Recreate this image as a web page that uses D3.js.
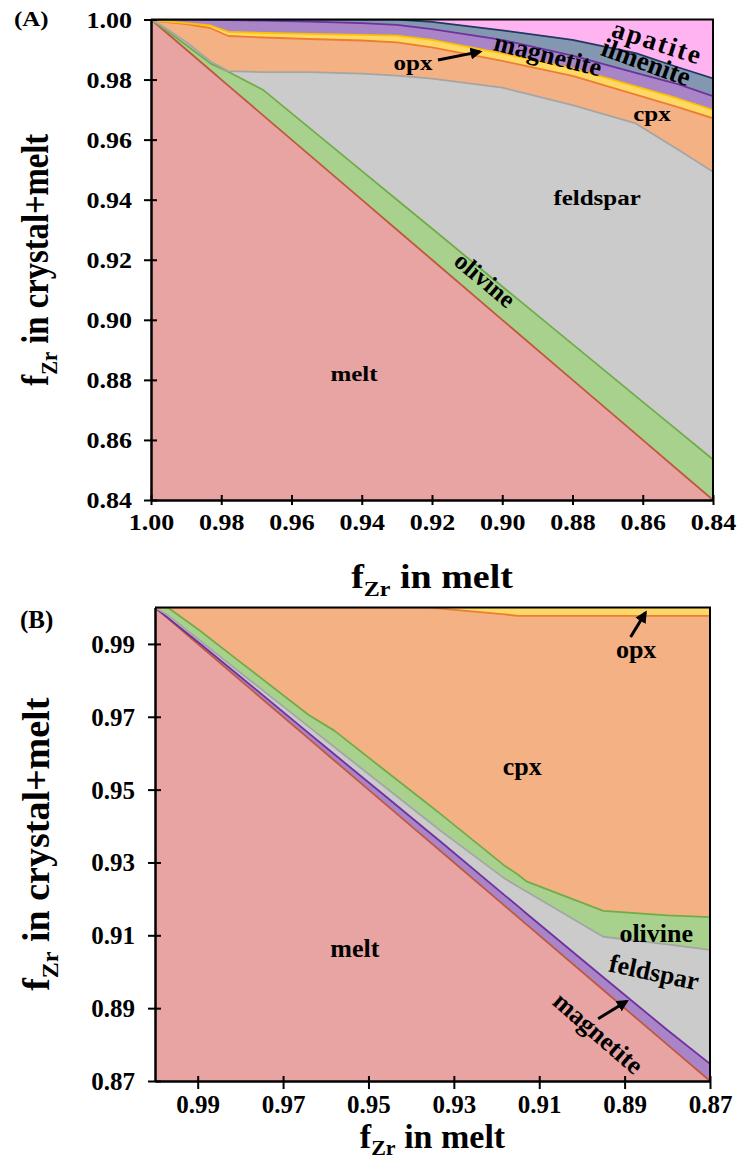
<!DOCTYPE html>
<html>
<head>
<meta charset="utf-8">
<script src="https://cdn.jsdelivr.net/npm/d3@7"></script>
<style>
  body { margin: 0; background: #fff; }
  svg text { font-family: "Liberation Serif", "Times New Roman", serif; font-weight: bold; fill: #000; }
</style>
</head>
<body>
<svg id="chart" width="740" height="1159"></svg>
<script>
// ---------- Panel A: cumulative Zr fractions (top edge of each stacked phase) ----------
const aX         = [1.000, 0.997, 0.990, 0.983, 0.978, 0.968, 0.955, 0.940, 0.930, 0.920, 0.900, 0.880, 0.862, 0.850, 0.840];
const aMelt      = [1.000, 0.997, 0.990, 0.983, 0.978, 0.968, 0.955, 0.940, 0.930, 0.920, 0.900, 0.880, 0.862, 0.850, 0.840];
const aOlivine   = [1.000, 0.9975, 0.9915, 0.9853, 0.9826, 0.9765, 0.9640, 0.9496, 0.9400, 0.9304, 0.9111, 0.8919, 0.8746, 0.8631, 0.8535];
const aFeldspar  = [1.000, 0.9980, 0.9925, 0.9860, 0.9828, 0.9825, 0.9825, 0.9820, 0.9813, 0.9803, 0.9773, 0.9715, 0.9654, 0.9567, 0.9493];
const aCpx       = [1.000, 0.9993, 0.9985, 0.9971, 0.9945, 0.9940, 0.9935, 0.9930, 0.9924, 0.9907, 0.9862, 0.9812, 0.9750, 0.9708, 0.9671];
const aOpx       = [1.000, 0.9995, 0.9988, 0.9980, 0.9959, 0.9955, 0.9952, 0.9949, 0.9946, 0.9932, 0.9887, 0.9837, 0.9777, 0.9737, 0.9699];
const aMagnetite = [1.000, 1.000, 1.000, 0.9999, 0.9998, 0.9996, 0.9993, 0.9988, 0.9982, 0.9968, 0.9932, 0.9880, 0.9822, 0.9785, 0.9745];
const aIlmenite  = [1.000, 1.000, 1.000, 1.000, 1.000, 1.000, 1.000, 1.000, 1.000, 0.9992, 0.9964, 0.9932, 0.9888, 0.9841, 0.9804];
const aTicks     = [1.00, 0.98, 0.96, 0.94, 0.92, 0.90, 0.88, 0.86, 0.84];

// ---------- Panel B ----------
const bX         = [1.000, 0.997, 0.990, 0.980, 0.964, 0.958, 0.945, 0.936, 0.933, 0.918, 0.915, 0.913, 0.895, 0.880, 0.870];
const bMelt      = [1.000, 0.997, 0.990, 0.980, 0.964, 0.958, 0.945, 0.936, 0.933, 0.918, 0.915, 0.913, 0.895, 0.880, 0.870];
const bMagnetite = [1.000, 0.9972, 0.9906, 0.9810, 0.9655, 0.9597, 0.9472, 0.9385, 0.9356, 0.9209, 0.9180, 0.9160, 0.8985, 0.8840, 0.8747];
const bFeldspar  = [1.000, 0.9979, 0.9914, 0.9821, 0.9673, 0.9617, 0.9497, 0.9414, 0.9386, 0.9255, 0.9234, 0.9220, 0.9096, 0.9075, 0.9060];
const bOlivine   = [1.000, 1.000, 0.9941, 0.9850, 0.9705, 0.9662, 0.9542, 0.9460, 0.9432, 0.9290, 0.9267, 0.9248, 0.9167, 0.9155, 0.9150];
const bCpx       = [1.000, 1.000, 1.000, 1.000, 1.000, 1.000, 1.000, 1.000, 0.9997, 0.9981, 0.9977, 0.9977, 0.9977, 0.9977, 0.9977];
const bTicks     = [0.99, 0.97, 0.95, 0.93, 0.91, 0.89, 0.87];

// phase colours (fill, boundary line)
const colors = {
  melt:      ["#E8A3A3", "#C0583F"],
  olivine:   ["#A9D18E", "#70AD47"],
  feldspar:  ["#CBCBCB", "#A5A5A5"],
  cpx:       ["#F4B183", "#ED7D31"],
  opx:       ["#FFD966", "#FFC000"],
  magnetite: ["#A985C8", "#7030A0"],
  ilmenite:  ["#8497B0", "#1F3864"],
  apatite:   ["#FFB3F0", null]
};

const svg = d3.select("#chart");
const defs = svg.append("defs");
defs.append("marker").attr("id", "arrowhead")
  .attr("viewBox", "0 0 10 10").attr("refX", 8).attr("refY", 5)
  .attr("markerWidth", 4).attr("markerHeight", 4).attr("orient", "auto")
  .append("path").attr("d", "M0,0 L10,5 L0,10 Z").attr("fill", "#000");

function drawPanel(o) {
  const x = d3.scaleLinear().domain(o.xDomain).range([o.left, o.right]);
  const y = d3.scaleLinear().domain(o.yDomain).range([o.bottom, o.top]);
  const sq = o.squish;

  defs.append("clipPath").attr("id", "clip" + o.id).append("rect")
    .attr("x", o.left).attr("y", o.top)
    .attr("width", o.right - o.left).attr("height", o.bottom - o.top);
  const plot = svg.append("g").attr("clip-path", `url(#clip${o.id})`);

  // stacked phase areas
  let lower = o.xs.map(() => o.yDomain[0]);
  o.layers.forEach(L => {
    const upper = L.top || o.xs.map(() => o.yDomain[1]);
    const pts = o.xs.map((xv, i) => ({ x: xv, lo: lower[i], hi: upper[i] }));
    plot.append("path").datum(pts)
      .attr("d", d3.area().x(d => x(d.x)).y0(d => y(d.lo)).y1(d => y(d.hi)))
      .attr("fill", colors[L.name][0]);
    lower = upper;
  });
  // phase boundary lines
  o.layers.forEach(L => {
    if (!L.top || !colors[L.name][1]) return;
    plot.append("path").datum(o.xs.map((xv, i) => ({ x: xv, y: L.top[i] })))
      .attr("d", d3.line().x(d => x(d.x)).y(d => y(d.y)))
      .attr("fill", "none").attr("stroke", colors[L.name][1])
      .attr("stroke-width", 1.8).attr("stroke-linejoin", "round");
  });

  // frame (top and right)
  svg.append("path")
    .attr("d", `M${o.left},${o.top} H${o.right} V${o.bottom}`)
    .attr("fill", "none").attr("stroke", "#000").attr("stroke-width", 2);

  // left axis
  const ya = svg.append("g").attr("transform", `translate(${o.left},0)`)
    .call(d3.axisLeft(y).tickValues(o.yTicks).tickFormat(d3.format(".2f")).tickSizeOuter(0));
  ya.select(".domain").attr("stroke-width", 2.5);
  ya.selectAll(".tick line").attr("x1", 6).attr("x2", -7).attr("stroke-width", 2);
  ya.selectAll(".tick text")
    .attr("x", o.yLabelX).attr("dy", null).attr("dominant-baseline", "central")
    .attr("font-size", o.tickFont)
    .attr("transform", `scale(1,${sq})`).attr("font-family", null);

  // bottom axis
  const xa = svg.append("g").attr("transform", `translate(0,${o.bottom})`)
    .call(d3.axisBottom(x).tickValues(o.xTicks).tickFormat(d3.format(".2f")).tickSizeOuter(0));
  xa.select(".domain").attr("stroke-width", 2.5);
  xa.selectAll(".tick line").attr("y1", o.xTickUp).attr("y2", o.xTickDown).attr("stroke-width", 2);
  xa.selectAll(".tick text")
    .attr("y", o.xLabelY / sq).attr("dy", null)
    .attr("font-size", o.tickFont)
    .attr("transform", `scale(1,${sq})`).attr("font-family", null);

  // axis titles
  const xt = svg.append("text")
    .attr("transform", `translate(${(o.left + o.right) / 2},${o.bottom + o.xTitleY}) scale(1,${sq})`)
    .attr("text-anchor", "middle").attr("font-size", o.titleFont);
  xt.append("tspan").text("f");
  xt.append("tspan").text("Zr").attr("font-size", o.subFont).attr("dy", o.subShift);
  xt.append("tspan").text(" in melt").attr("dy", -o.subShift);

  const yt = svg.append("text")
    .attr("transform", `translate(${o.yTitleX},${(o.top + o.bottom) / 2}) scale(1,${sq}) rotate(-90)`)
    .attr("text-anchor", "middle").attr("font-size", 38);
  yt.append("tspan").text("f");
  yt.append("tspan").text("Zr").attr("font-size", 24).attr("dy", 9);
  yt.append("tspan").text(" in crystal+melt").attr("dy", -9);

  // panel letter
  svg.append("text").text(o.letter)
    .attr("transform", `translate(${o.letterX},${o.letterY}) scale(1,${sq})`)
    .attr("font-size", 25);

  // phase labels
  o.labels.forEach(l => {
    const t = svg.append("text").text(l.text)
      .attr("text-anchor", "middle").attr("dominant-baseline", "central")
      .attr("font-size", l.size || o.labelFont)
      .attr("transform", `translate(${x(l.x)},${y(l.y)}) rotate(${l.rot || 0})` + (l.rot ? "" : ` scale(1,${sq})`));
    if (l.spacing) t.attr("letter-spacing", l.spacing);
  });

  // arrows
  o.arrows.forEach(a => {
    svg.append("line")
      .attr("x1", x(a[0])).attr("y1", y(a[1]))
      .attr("x2", x(a[2])).attr("y2", y(a[3]))
      .attr("stroke", "#000").attr("stroke-width", 3)
      .attr("marker-end", "url(#arrowhead)");
  });
}

drawPanel({
  id: "A", letter: "(A)", letterX: 14, letterY: 26,
  left: 151, right: 713, top: 19.5, bottom: 500,
  xDomain: [1.00, 0.84], yDomain: [0.84, 1.00],
  xs: aX, squish: 0.86,
  layers: [
    { name: "melt", top: aMelt },
    { name: "olivine", top: aOlivine },
    { name: "feldspar", top: aFeldspar },
    { name: "cpx", top: aCpx },
    { name: "opx", top: aOpx },
    { name: "magnetite", top: aMagnetite },
    { name: "ilmenite", top: aIlmenite },
    { name: "apatite", top: null }
  ],
  yTicks: aTicks, xTicks: aTicks,
  yLabelX: -19, xLabelY: 30, xTickUp: -5, xTickDown: 5,
  tickFont: 26, labelFont: 25,
  titleFont: 38, subFont: 24, subShift: 9,
  xTitleY: 88, yTitleX: 48,
  labels: [
    { text: "apatite", x: 0.8558, y: 0.9925, rot: 18, spacing: 2, size: 27 },
    { text: "ilmenite", x: 0.8590, y: 0.9858, rot: 20, size: 27 },
    { text: "magnetite", x: 0.8870, y: 0.9882, rot: 14, size: 26 },
    { text: "opx", x: 0.9254, y: 0.9855 },
    { text: "cpx", x: 0.8574, y: 0.9685 },
    { text: "feldspar", x: 0.8730, y: 0.9406 },
    { text: "olivine", x: 0.9049, y: 0.9133, rot: 40 },
    { text: "melt", x: 0.9422, y: 0.8820 }
  ],
  arrows: [[0.9183, 0.9865, 0.9063, 0.9893]]
});

drawPanel({
  id: "B", letter: "(B)", letterX: 20, letterY: 628,
  left: 155, right: 710, top: 607.5, bottom: 1081,
  xDomain: [1.00, 0.87], yDomain: [0.87, 1.00],
  xs: bX, squish: 1,
  layers: [
    { name: "melt", top: bMelt },
    { name: "magnetite", top: bMagnetite },
    { name: "feldspar", top: bFeldspar },
    { name: "olivine", top: bOlivine },
    { name: "cpx", top: bCpx },
    { name: "opx", top: null }
  ],
  yTicks: bTicks, xTicks: bTicks,
  yLabelX: -20, xLabelY: 32, xTickUp: -5, xTickDown: 8,
  tickFont: 25, labelFont: 26,
  titleFont: 34, subFont: 22, subShift: 7,
  xTitleY: 67, yTitleX: 49,
  labels: [
    { text: "cpx", x: 0.9140, y: 0.9564 },
    { text: "opx", x: 0.8873, y: 0.9886 },
    { text: "olivine", x: 0.8826, y: 0.9105 },
    { text: "feldspar", x: 0.8831, y: 0.8998, rot: 12 },
    { text: "magnetite", x: 0.8962, y: 0.8831, rot: 41 },
    { text: "melt", x: 0.9532, y: 0.9064 }
  ],
  arrows: [
    [0.8886, 0.9919, 0.8851, 0.9986],
    [0.8962, 0.8871, 0.8895, 0.8919]
  ]
});
</script>
</body>
</html>
